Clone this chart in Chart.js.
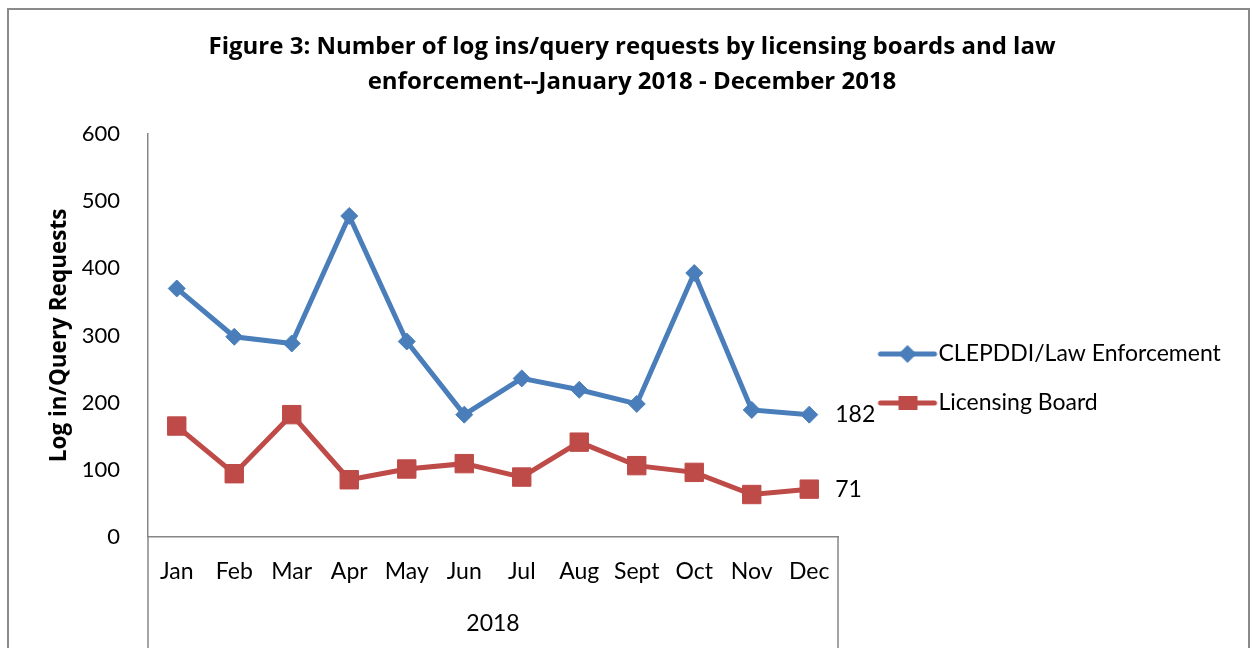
<!DOCTYPE html>
<html>
<head>
<meta charset="utf-8">
<script src="https://cdn.jsdelivr.net/npm/chart.js@4"></script>
<style>
  html, body { margin: 0; padding: 0; background: #fff; }
  #wrap { position: relative; width: 1253px; height: 648px; overflow: hidden; }
  #frame { position: absolute; left: 7px; top: 8px; width: 1243px; height: 700px; border: 2px solid #8a8a8a; box-sizing: border-box; }
  #chart { position: absolute; left: 0; top: 0; }
</style>
</head>
<body>
<div id="wrap">
  <div id="frame"></div>
  <canvas id="chart" width="1253" height="648"></canvas>
</div>
<script>
const months = ['Jan', 'Feb', 'Mar', 'Apr', 'May', 'Jun', 'Jul', 'Aug', 'Sept', 'Oct', 'Nov', 'Dec'];
const lawEnforcement = [370, 298, 288, 478, 291, 182, 236, 219, 198, 393, 189, 182];
const licensingBoard = [165, 94, 182, 85, 101, 109, 89, 141, 106, 96, 63, 71];
const yearLabel = '2018';

const BLUE = '#4a7ebb';
const RED = '#be4b48';
const AXIS = '#868686';
const FONT = 'Lato';
const BOLD_FONT = 'Open Sans';

// target plot edges
const PLOT_LEFT = 148, PLOT_RIGHT = 838, YTITLE_X = 60, TITLE_CX = 632;
let padL = 0;

// small line+marker pictures for the legend
function legendIcon(color, shape) {
  const c = document.createElement('canvas');
  c.width = 90; c.height = 22;
  const g = c.getContext('2d');
  g.strokeStyle = color; g.lineWidth = 5; g.lineCap = 'round';
  g.beginPath(); g.moveTo(30, 11); g.lineTo(84, 11); g.stroke();
  g.fillStyle = color;
  if (shape === 'diamond') {
    g.beginPath(); g.moveTo(57, 2); g.lineTo(66, 11); g.lineTo(57, 20); g.lineTo(48, 11); g.closePath(); g.fill();
  } else {
    g.fillRect(48, 4, 19, 14);
  }
  return c;
}
const icons = [legendIcon(BLUE, 'diamond'), legendIcon(RED, 'square')];

const axisExtras = {
  id: 'axisExtras',
  afterDraw(chart) {
    const {ctx, chartArea} = chart;
    ctx.save();
    ctx.strokeStyle = AXIS; ctx.lineWidth = 1.5;
    ctx.beginPath();
    ctx.moveTo(chartArea.left, chartArea.bottom); ctx.lineTo(chartArea.left, chart.height);
    ctx.moveTo(chartArea.right, chartArea.bottom); ctx.lineTo(chartArea.right, chart.height);
    ctx.stroke();
    // value labels at the last point of each line
    ctx.fillStyle = '#000';
    ctx.font = '23px ' + FONT;
    ctx.textBaseline = 'middle';
    chart.data.datasets.forEach((ds, i) => {
      const pts = chart.getDatasetMeta(i).data;
      const p = pts[pts.length - 1];
      ctx.fillText(String(ds.data[ds.data.length - 1]), p.x + 26, p.y);
    });
    ctx.restore();
  }
};

const chart = new Chart(document.getElementById('chart'), {
  type: 'line',
  data: {
    labels: months,
    datasets: [{
      label: 'CLEPDDI/Law Enforcement',
      data: lawEnforcement,
      borderColor: BLUE,
      backgroundColor: BLUE,
      borderWidth: 5,
      pointStyle: 'rectRot',
      pointRadius: 8.5,
      pointBorderWidth: 1,
      pointBorderColor: BLUE,
      pointBackgroundColor: BLUE,
      tension: 0
    }, {
      label: 'Licensing Board',
      data: licensingBoard,
      borderColor: RED,
      backgroundColor: RED,
      borderWidth: 5,
      pointStyle: 'rect',
      pointRadius: 13,
      pointBorderWidth: 1,
      pointBorderColor: RED,
      pointBackgroundColor: RED,
      tension: 0
    }]
  },
  options: {
    responsive: false,
    animation: false,
    layout: { padding: { left: 0, right: 0, top: 0, bottom: 0 } },
    plugins: {
      title: {
        display: true,
        text: ['Figure 3: Number of log ins/query requests by licensing boards and law', 'enforcement--January 2018 - December 2018'],
        color: '#000',
        font: { family: BOLD_FONT, size: 24, weight: 'bold', lineHeight: 1.46 },
        padding: { top: 30, bottom: 34 }
      },
      legend: {
        position: 'right',
        maxWidth: 440,
        title: { display: true, text: ' ', font: { size: 10 }, padding: { top: 0, bottom: 97 } },
        labels: {
          usePointStyle: true,
          pointStyleWidth: 63,
          padding: 26,
          color: '#000',
          font: { family: FONT, size: 23 },
          generateLabels(ch) {
            const items = Chart.defaults.plugins.legend.labels.generateLabels(ch);
            items.forEach((it, i) => { it.pointStyle = icons[i]; });
            return items;
          }
        }
      },
      tooltip: { enabled: false }
    },
    scales: {
      x: {
        offset: true,
        grid: { display: false, drawTicks: false, offset: true },
        border: { display: true, color: AXIS, width: 1.5 },
        ticks: { color: '#000', font: { family: FONT, size: 23 }, padding: 21, maxRotation: 0, autoSkip: false },
        title: { display: true, text: yearLabel, color: '#000', font: { family: FONT, size: 23 }, padding: { top: 3, bottom: 11 } }
      },
      y: {
        min: 0, max: 600,
        grid: { display: false, drawTicks: false },
        border: { display: true, color: AXIS, width: 1.5 },
        ticks: { stepSize: 100, color: '#000', font: { family: FONT, size: 22 }, padding: 28 },
        title: { display: true, text: 'Log in/Query Requests', color: '#000', font: { family: BOLD_FONT, size: 22.5, weight: 'bold' }, padding: { top: 47, bottom: 4 } },
        afterFit(scale) { scale.width = PLOT_LEFT - padL; }
      }
    }
  },
  plugins: [axisExtras]
});

// put the plot edges and the title centre where the reference has them
const padR = Math.max(0, chart.width - PLOT_RIGHT - chart.legend.width);
padL = Math.max(0, 2 * TITLE_CX - chart.width + padR);
chart.config.options.layout.padding = { left: padL, top: 0, bottom: 0, right: padR };
chart.config.options.scales.y.title.padding = { top: YTITLE_X - padL - 13.5, bottom: 4 };
chart.update();
</script>
</body>
</html>
